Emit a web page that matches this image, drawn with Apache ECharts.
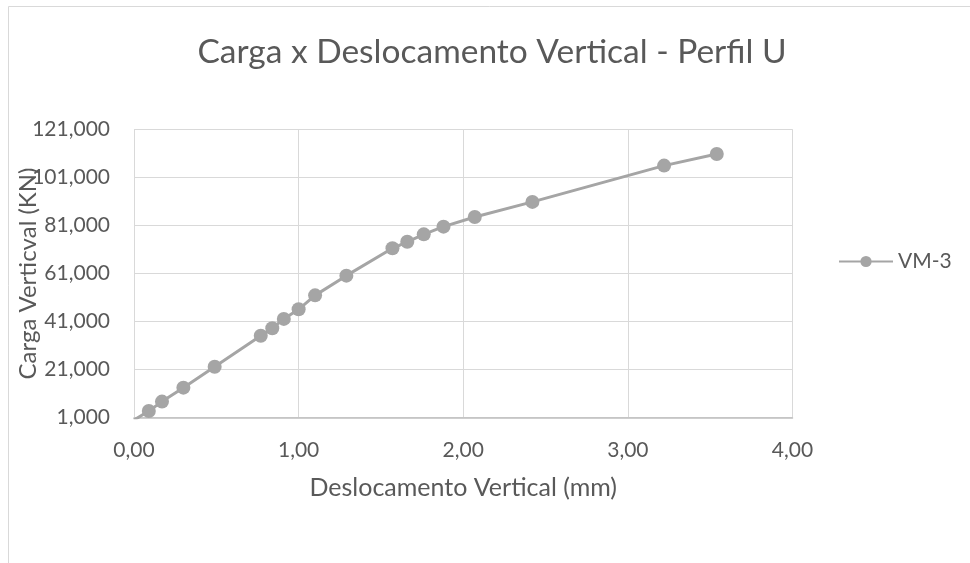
<!DOCTYPE html>
<html>
<head>
<meta charset="utf-8">
<title>Carga x Deslocamento Vertical - Perfil U</title>
<script src="https://cdn.jsdelivr.net/npm/echarts@6/dist/echarts.min.js"></script>
<style>
  html, body { margin: 0; padding: 0; background: #ffffff; }
  #chart { width: 970px; height: 563px; }
</style>
</head>
<body>
<div id="chart"></div>
<script>
// Vertical displacement (mm) and vertical load (KN), specimen VM-3
const seriesName = 'VM-3';
const deslocamento = [0, 0.09, 0.17, 0.30, 0.49, 0.77, 0.84, 0.91, 1.00, 1.10, 1.29, 1.57, 1.66, 1.76, 1.88, 2.07, 2.42, 3.22, 3.54];
const carga = [0, 3800, 7700, 13500, 22200, 35100, 38200, 42100, 46100, 51900, 60100, 71500, 74200, 77300, 80500, 84500, 90800, 105900, 110700];

// Axis ranges
const xMin = 0, xMax = 4, xStep = 1;
const yMin = 1000, yMax = 121000, yStep = 20000;

const FONT = 'Lato';
const TEXT = '#595959';
const GRID_LINE = '#d9d9d9';
const MARK = '#a5a5a5';

const points = deslocamento.map((x, i) => [x, carga[i]]);

const chart = echarts.init(document.getElementById('chart'));
chart.setOption({
  backgroundColor: '#ffffff',
  animation: false,
  textStyle: { fontFamily: FONT },
  graphic: [{
    type: 'rect',
    shape: { x: 8.5, y: 6.5, width: 1000, height: 620 },
    style: { fill: 'none', stroke: GRID_LINE, lineWidth: 1 },
    silent: true, z: -10
  }],
  title: {
    text: 'Carga x Deslocamento Vertical - Perfil U',
    left: 492,
    textAlign: 'center',
    top: 35,
    padding: 0,
    textStyle: { fontFamily: FONT, fontSize: 33.5, fontWeight: 'normal', color: TEXT }
  },
  legend: {
    left: 838,
    top: 251,
    orient: 'vertical',
    itemWidth: 54,
    itemHeight: 14,
    itemGap: 5,
    padding: 0,
    textStyle: { fontFamily: FONT, fontSize: 21, color: TEXT },
    data: [seriesName]
  },
  grid: {
    left: 134, right: 177.5, top: 129.3, bottom: 145.3,
    containLabel: false,
    outerBoundsMode: 'none'
  },
  xAxis: {
    type: 'value',
    min: xMin, max: xMax, interval: xStep,
    name: 'Deslocamento Vertical (mm)',
    nameLocation: 'middle',
    nameGap: 58,
    nameMoveOverlap: false,
    nameTextStyle: { fontFamily: FONT, fontSize: 25, color: TEXT },
    axisLine: { show: true, onZero: false, lineStyle: { color: '#bfbfbf', width: 1.5 } },
    axisTick: { show: false },
    axisLabel: {
      margin: 22, fontFamily: FONT, fontSize: 21, color: TEXT,
      formatter: v => v.toFixed(2).replace('.', ',')
    },
    splitLine: { show: true, lineStyle: { color: GRID_LINE, width: 1 } }
  },
  yAxis: {
    type: 'value',
    min: yMin, max: yMax, interval: yStep,
    name: 'Carga Verticval (KN)',
    nameLocation: 'middle',
    nameGap: 94,
    nameMoveOverlap: false,
    nameTextStyle: { fontFamily: FONT, fontSize: 24, color: TEXT },
    axisLine: { show: false },
    axisTick: { show: false },
    axisLabel: {
      margin: 24, fontFamily: FONT, fontSize: 21, color: TEXT,
      formatter: v => v.toLocaleString('en-US')
    },
    splitLine: { show: true, lineStyle: { color: GRID_LINE, width: 1 } }
  },
  series: [{
    name: seriesName,
    type: 'line',
    data: points,
    clip: true,
    symbol: 'circle',
    symbolSize: 14,
    showAllSymbol: true,
    lineStyle: { color: MARK, width: 3 },
    itemStyle: { color: MARK },
    z: 3
  }]
});
</script>
</body>
</html>
